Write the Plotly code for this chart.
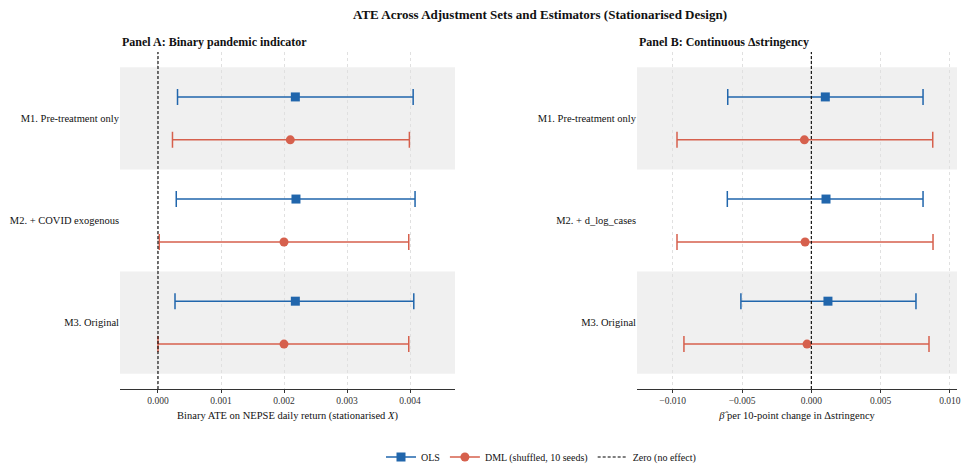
import plotly.graph_objects as go

# ---------------- data ----------------
models_a = ["M1. Pre-treatment only", "M2. + COVID exogenous", "M3. Original"]
models_b = ["M1. Pre-treatment only", "M2. + d_log_cases", "M3. Original"]

a_ols_est = [0.00218, 0.00219, 0.00218]
a_ols_lo = [0.00031, 0.00029, 0.00027]
a_ols_hi = [0.00405, 0.00408, 0.00406]
a_dml_est = [0.00210, 0.00200, 0.00200]
a_dml_lo = [0.00023, 0.00002, 0.00000]
a_dml_hi = [0.00399, 0.00398, 0.00398]

b_ols_est = [0.00101, 0.00106, 0.00120]
b_ols_lo = [-0.00603, -0.00606, -0.00508]
b_ols_hi = [0.00806, 0.00806, 0.00755]
b_dml_est = [-0.00050, -0.00045, -0.00031]
b_dml_lo = [-0.00969, -0.00969, -0.00919]
b_dml_hi = [0.00876, 0.00878, 0.00849]

ticks_a = [0.0, 0.001, 0.002, 0.003, 0.004]
ticks_b = [-0.010, -0.005, 0.0, 0.005, 0.010]

# ---------------- style ----------------
BLUE = "#2166ac"
RED = "#d6604d"
FONT = "Liberation Serif, Times New Roman, serif"
ZERO_DASH = "3px,2px"
M = 8                 # default body margin of the html page
W, H = 962, 464       # figure size (page window shows 970x464 from the top-left)
OFF = 0.21

def px_x(o):
    return (o - M) / W

def px_y(o):
    return 1 - (o - M) / H

fig = go.Figure()

def add_panel(xa, ya, est, lo, hi, color, symbol, sign):
    ys = [i + sign * OFF for i in range(len(est))]
    fig.add_trace(go.Scatter(
        x=est, y=ys, mode="markers", xaxis=xa, yaxis=ya, showlegend=False,
        marker=dict(color=color, symbol=symbol, size=9),
        error_x=dict(type="data", symmetric=False,
                     array=[h - e for h, e in zip(hi, est)],
                     arrayminus=[e - l for e, l in zip(est, lo)],
                     color=color, thickness=1.5, width=8),
        hoverinfo="x",
    ))

add_panel("x", "y", a_ols_est, a_ols_lo, a_ols_hi, BLUE, "square", -1)
add_panel("x", "y", a_dml_est, a_dml_lo, a_dml_hi, RED, "circle", 1)
add_panel("x2", "y2", b_ols_est, b_ols_lo, b_ols_hi, BLUE, "square", -1)
add_panel("x2", "y2", b_dml_est, b_dml_lo, b_dml_hi, RED, "circle", 1)

# legend entries
fig.add_trace(go.Scatter(x=[None], y=[None], mode="lines+markers", name="OLS",
                         line=dict(color=BLUE, width=1.5),
                         marker=dict(color=BLUE, symbol="square", size=9)))
fig.add_trace(go.Scatter(x=[None], y=[None], mode="lines+markers", name="DML (shuffled, 10 seeds)",
                         line=dict(color=RED, width=1.5),
                         marker=dict(color=RED, symbol="circle", size=9)))
fig.add_trace(go.Scatter(x=[None], y=[None], mode="lines", name="Zero (no effect)",
                         line=dict(color="black", width=1.1, dash=ZERO_DASH)))

ydom = [px_y(389), px_y(52)]
xdomA = [px_x(120), px_x(455)]
xdomB = [px_x(637), px_x(957)]

axis_common = dict(showline=True, linecolor="#333", linewidth=1, ticks="outside",
                   ticklen=3, tickcolor="#333", showgrid=True, gridcolor="#e0e0e0",
                   griddash="dot", gridwidth=1, zeroline=False, automargin=False,
                   tickfont=dict(family=FONT, size=9.5, color="#333"),
                   title_font=dict(family=FONT, size=10.5, color="#111"))

fig.update_layout(
    width=W, height=H,
    margin=dict(l=0, r=0, t=0, b=0),
    paper_bgcolor="white", plot_bgcolor="white",
    font=dict(family=FONT, color="#111"),
    xaxis=dict(domain=xdomA, anchor="y", range=[-0.000603, 0.004714],
               tickvals=ticks_a, ticktext=[f"{v:.3f}" for v in ticks_a],
               title=dict(text="Binary ATE on NEPSE daily return (stationarised <i>X</i>)", standoff=6),
               **axis_common),
    yaxis=dict(domain=ydom, anchor="x", range=[2.65, -0.65], automargin=False,
               tickvals=list(range(len(models_a))), ticktext=models_a,
               showgrid=False, showline=False, zeroline=False, ticks="", ticklen=0,
               tickfont=dict(family=FONT, size=10.5, color="#111")),
    xaxis2=dict(domain=xdomB, anchor="y2", range=[-0.012576, 0.01051],
                tickvals=ticks_b, ticktext=[f"{v:.3f}".replace("-", "\u2212") if v != 0 else "0.000" for v in ticks_b],
                title=dict(text="<i>\u03b2\u0302</i> per 10-point change in \u0394stringency", standoff=6),
                **axis_common),
    yaxis2=dict(domain=ydom, anchor="x2", range=[2.65, -0.65], automargin=False,
                tickvals=list(range(len(models_b))), ticktext=models_b,
                showgrid=False, showline=False, zeroline=False, ticks="", ticklen=0,
                tickfont=dict(family=FONT, size=10.5, color="#111")),
    legend=dict(orientation="h", x=px_x(541), xanchor="center", y=px_y(457), yanchor="middle",
                font=dict(family=FONT, size=10, color="#111"), bgcolor="rgba(0,0,0,0)",
                itemwidth=30, tracegroupgap=0),
    showlegend=True,
)

# shaded bands and zero lines
for xr, yr in (("x", "y"), ("x2", "y2")):
    for c in (0, 2):
        fig.add_shape(type="rect", xref=f"{xr} domain", yref=yr, x0=0, x1=1,
                      y0=c - 0.5, y1=c + 0.5, fillcolor="#f0f0f0", line_width=0, layer="below")
    fig.add_shape(type="line", xref=xr, yref=f"{yr} domain", x0=0, x1=0, y0=0, y1=1,
                  line=dict(color="black", width=1.1, dash=ZERO_DASH), layer="above")

# titles
fig.add_annotation(text="<b>ATE Across Adjustment Sets and Estimators (Stationarised Design)</b>",
                   xref="paper", yref="paper", x=px_x(540), y=px_y(15), xanchor="center",
                   yanchor="middle", showarrow=False, font=dict(family=FONT, size=13, color="#111"))
fig.add_annotation(text="<b>Panel A: Binary pandemic indicator</b>", xref="paper", yref="paper",
                   x=px_x(120), y=px_y(42), xanchor="left", yanchor="middle", showarrow=False,
                   font=dict(family=FONT, size=12, color="#111"))
fig.add_annotation(text="<b>Panel B: Continuous \u0394stringency</b>", xref="paper", yref="paper",
                   x=px_x(637), y=px_y(42), xanchor="left", yanchor="middle", showarrow=False,
                   font=dict(family=FONT, size=12, color="#111"))

fig.write_html("out.html")
